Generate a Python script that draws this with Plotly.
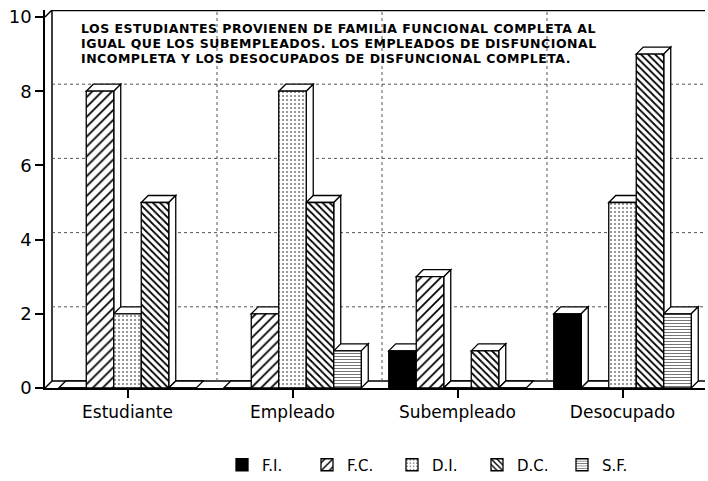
import plotly.graph_objects as go

categories = ["Estudiante", "Empleado", "Subempleado", "Desocupado"]
series_names = ["F.I.", "F.C.", "D.I.", "D.C.", "S.F."]
fi = [0, 0, 1, 2]
fc = [8, 2, 3, 0]
di = [2, 8, 0, 5]
dc = [5, 5, 1, 9]
sf = [0, 1, 0, 2]
y_ticks = [0, 2, 4, 6, 8, 10]
note_lines = [
    "LOS ESTUDIANTES PROVIENEN DE FAMILIA FUNCIONAL COMPLETA AL",
    "IGUAL QUE LOS SUBEMPLEADOS. LOS EMPLEADOS DE DISFUNCIONAL",
    "INCOMPLETA Y LOS DESOCUPADOS DE DISFUNCIONAL COMPLETA.",
]

series_values = [fi, fc, di, dc, sf]

# styles
patterns = [
    dict(shape="", fillmode="replace"),
    dict(shape="/", size=7, solidity=0.25, fgcolor="black", bgcolor="white", fillmode="replace"),
    dict(shape=".", size=4, solidity=0.2, fgcolor="#777", bgcolor="white", fillmode="replace"),
    dict(shape="\\", size=5, solidity=0.35, fgcolor="black", bgcolor="white", fillmode="replace"),
    dict(shape="-", size=3, solidity=0.3, fgcolor="#666", bgcolor="white", fillmode="replace"),
]

W, H = 708, 481
ML, MR, MT, MB = 45, 3, 10, 93
PW = W - ML - MR
PH = H - MT - MB
DEPTH = 7
ymax_tick = 10
px_per_y = (PH - DEPTH) / ymax_tick
dy = DEPTH / px_per_y
ncat = len(categories)
px_per_x = PW / ncat
dx = DEPTH / px_per_x
bargap = 0.1667
nser = len(series_names)
bw = (1 - bargap) / nser

xs = list(range(ncat))

fig = go.Figure()
for s, (name, vals) in enumerate(zip(series_names, series_values)):
    fig.add_trace(go.Bar(
        x=xs, y=vals, name=name,
        marker=dict(color="black", line=dict(color="black", width=1.3), pattern=patterns[s]),
    ))

shapes = []
# back wall
xl, xr = -0.5, ncat - 0.5
shapes.append(dict(type="rect", xref="x", yref="y", x0=xl + dx, x1=xr + 0.2, y0=dy, y1=ymax_tick + dy,
                   line=dict(color="black", width=1.5), fillcolor="rgba(0,0,0,0)", layer="below"))
shapes.append(dict(type="line", xref="x", yref="y", x0=xl + dx, x1=xr + 0.2, y0=ymax_tick + dy, y1=ymax_tick + dy,
                   line=dict(color="black", width=2.5), layer="below"))
shapes.append(dict(type="line", xref="x", yref="y", x0=xl, x1=xl + dx, y0=ymax_tick, y1=ymax_tick + dy,
                   line=dict(color="black", width=1.5), layer="below"))
shapes.append(dict(type="line", xref="x", yref="y", x0=xl, x1=xl + dx, y0=0, y1=dy,
                   line=dict(color="black", width=1.5), layer="below"))
# gridlines on back wall
for t in y_ticks[1:-1]:
    shapes.append(dict(type="line", xref="x", yref="y", x0=xl + dx, x1=xr, y0=t + dy, y1=t + dy,
                       line=dict(color="#555", width=1, dash="dot"), layer="below"))
for c in range(ncat - 1):
    shapes.append(dict(type="line", xref="x", yref="y", x0=c + 0.5 + dx, x1=c + 0.5 + dx, y0=dy, y1=ymax_tick + dy,
                       line=dict(color="#555", width=1, dash="dot"), layer="below"))
# 3D faces of bars
for c in range(ncat):
    for s in range(nser):
        v = series_values[s][c]
        x0 = c - (1 - bargap) / 2 + s * bw
        x1 = x0 + bw
        top = f"M{x0},{v} L{x0+dx},{v+dy} L{x1+dx},{v+dy} L{x1},{v} Z"
        shapes.append(dict(type="path", xref="x", yref="y", path=top, fillcolor="white",
                           line=dict(color="black", width=1.3), layer="below"))
        if v > 0:
            side = f"M{x1},0 L{x1},{v} L{x1+dx},{v+dy} L{x1+dx},{dy} Z"
            shapes.append(dict(type="path", xref="x", yref="y", path=side, fillcolor="white",
                               line=dict(color="black", width=1.3), layer="below"))

annotations = []
for i, line in enumerate(note_lines):
    py = 28 + i * 15
    annotations.append(dict(
        text=f'<span style="letter-spacing:0.5px">{line}</span>',
        xref="paper", yref="paper", x=(80 - ML) / PW, y=(MT + PH - py) / PH,
        xanchor="left", yanchor="middle", align="left", showarrow=False, borderpad=0,
        font=dict(family="DejaVu Sans", size=12.5, color="black", weight="bold"),
    ))

fig.update_layout(
    width=W, height=H,
    margin=dict(l=ML, r=MR, t=MT, b=MB, autoexpand=False),
    paper_bgcolor="white", plot_bgcolor="white",
    barmode="group", bargap=bargap, bargroupgap=0,
    shapes=shapes, annotations=annotations,
    font=dict(family="DejaVu Sans", color="black"),
    showlegend=True,
    legend=dict(orientation="h", x=(222 - ML) / PW, xanchor="left", y=(MT + PH - 465) / PH, yanchor="middle",
                font=dict(size=15, family="DejaVu Sans"), entrywidth=40, entrywidthmode="pixels",
                traceorder="normal"),
    xaxis=dict(range=[xl, xr], tickvals=xs, ticktext=categories, showgrid=False, zeroline=False,
               showline=True, linecolor="black", linewidth=1.5, ticks="outside", ticklen=8,
               tickwidth=1.5, tickcolor="black", tickfont=dict(size=17)),
    yaxis=dict(range=[0, ymax_tick + dy], tickvals=y_ticks, showgrid=False, zeroline=False,
               showline=True, linecolor="black", linewidth=1.5, ticks="outside", ticklen=8,
               tickwidth=1.5, tickcolor="black", tickfont=dict(size=18)),
)

fig.write_html("out.html", config={"displayModeBar": False},
               post_script="document.body.style.margin='0';")
